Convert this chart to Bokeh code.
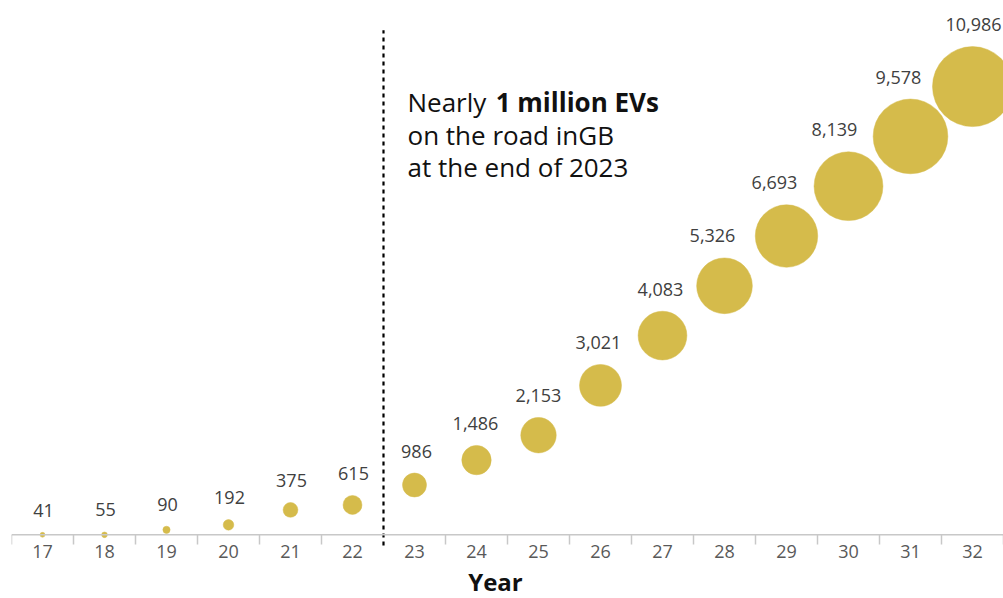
import math
from bokeh.plotting import figure
from bokeh.models import ColumnDataSource, Span, Label, Range1d
from bokeh.core.properties import value
from bokeh.embed import file_html
from bokeh.resources import INLINE

# ---- data ----
years = [17, 18, 19, 20, 21, 22, 23, 24, 25, 26, 27, 28, 29, 30, 31, 32]
ev_thousands = [41, 55, 90, 192, 375, 615, 986, 1486, 2153, 3021, 4083, 5326, 6693, 8139, 9578, 10986]
bubble_y = [0, 0, 0.1, 0.2, 0.5, 0.6, 1, 1.5, 2, 3, 4, 5, 6, 7, 8, 9]
tick_labels = [str(y) for y in years]
forecast_start = 23

# ---- style ----
label_dx = [1, 1, 1, 1, 1, 1, 2, -1, 0, -2, -2, -12, -12, -14, -12, 1]
MAX_R = 40.0
GOLD = "#D5BB4B"
FONT = "Open Sans"

radii = [MAX_R * math.sqrt(v / max(ev_thousands)) for v in ev_thousands]
src = ColumnDataSource(dict(
    x=years,
    y=bubble_y,
    size=[2 * r for r in radii],
    txt=[f"{v:,}" for v in ev_thousands],
    yoff=[-(r + 22) for r in radii],
    xoff=label_dx,
))

y0 = -1.279
y1 = 10.729
p = figure(width=1003, height=598, output_backend="svg", toolbar_location=None,
           x_range=Range1d(years[0] - 0.5, years[-1] + 0.5), y_range=Range1d(y0, y1),
           min_border_left=11, min_border_right=0, min_border_top=0, min_border_bottom=0)
p.outline_line_color = None
p.background_fill_color = "white"
p.border_fill_color = "white"
p.xgrid.visible = False
p.ygrid.visible = False
p.xaxis.visible = False
p.yaxis.visible = False

# axis line and boundary ticks
tick_len = 0.195
p.add_layout(Span(location=0, dimension="width", line_color="#C8C8C8", line_width=1.5))
divider = forecast_start - 0.5
bounds = [y - 0.5 for y in years] + [years[-1] + 0.5]
bounds = [b for b in bounds if b != divider]
p.segment(x0=bounds, y0=[0] * len(bounds), x1=bounds, y1=[-tick_len] * len(bounds),
          line_color="#C8C8C8", line_width=1.5)

# tick labels (category names)
p.text(x=years, y=[-0.345] * len(years), text=tick_labels, text_align="center",
       text_baseline="middle", text_font=value(FONT), text_font_size="18px",
       text_color="#595959")

# dotted divider
p.segment(x0=[divider], y0=[-0.215], x1=[divider], y1=[10.13],
          line_color="black", line_width=2.2, line_dash="4 4")

# bubbles
p.scatter("x", "y", size="size", source=src, fill_color=GOLD, line_color=GOLD,
          line_width=0.5)

# value labels
p.text("x", "y", text="txt", source=src, x_offset="xoff", y_offset="yoff",
       text_align="center", text_baseline="middle", text_font=value(FONT),
       text_font_size="18px", text_color="#404040")

# annotation
ann_x = 22.887
ann_size = "26px"
p.add_layout(Label(x=ann_x, y=8.70, text="Nearly", text_font=FONT, text_font_size=ann_size,
                   text_color="#111111", text_baseline="middle"))
p.add_layout(Label(x=24.31, y=8.70, text="1 million EVs", text_font=FONT, text_font_size=ann_size,
                   text_font_style="bold", text_color="#111111", text_baseline="middle"))
p.add_layout(Label(x=ann_x, y=8.03, text="on the road inGB", text_font=FONT, text_font_size=ann_size,
                   text_color="#111111", text_baseline="middle"))
p.add_layout(Label(x=ann_x, y=7.39, text="at the end of 2023", text_font=FONT, text_font_size=ann_size,
                   text_color="#111111", text_baseline="middle"))

# axis title
p.text(x=[24.306], y=[-0.93], text=["Year"], text_font=value(FONT), text_font_size="24px",
       text_font_style="bold", text_color="#111111", text_align="center",
       text_baseline="middle")

open("out.html", "w").write(file_html(p, INLINE))
